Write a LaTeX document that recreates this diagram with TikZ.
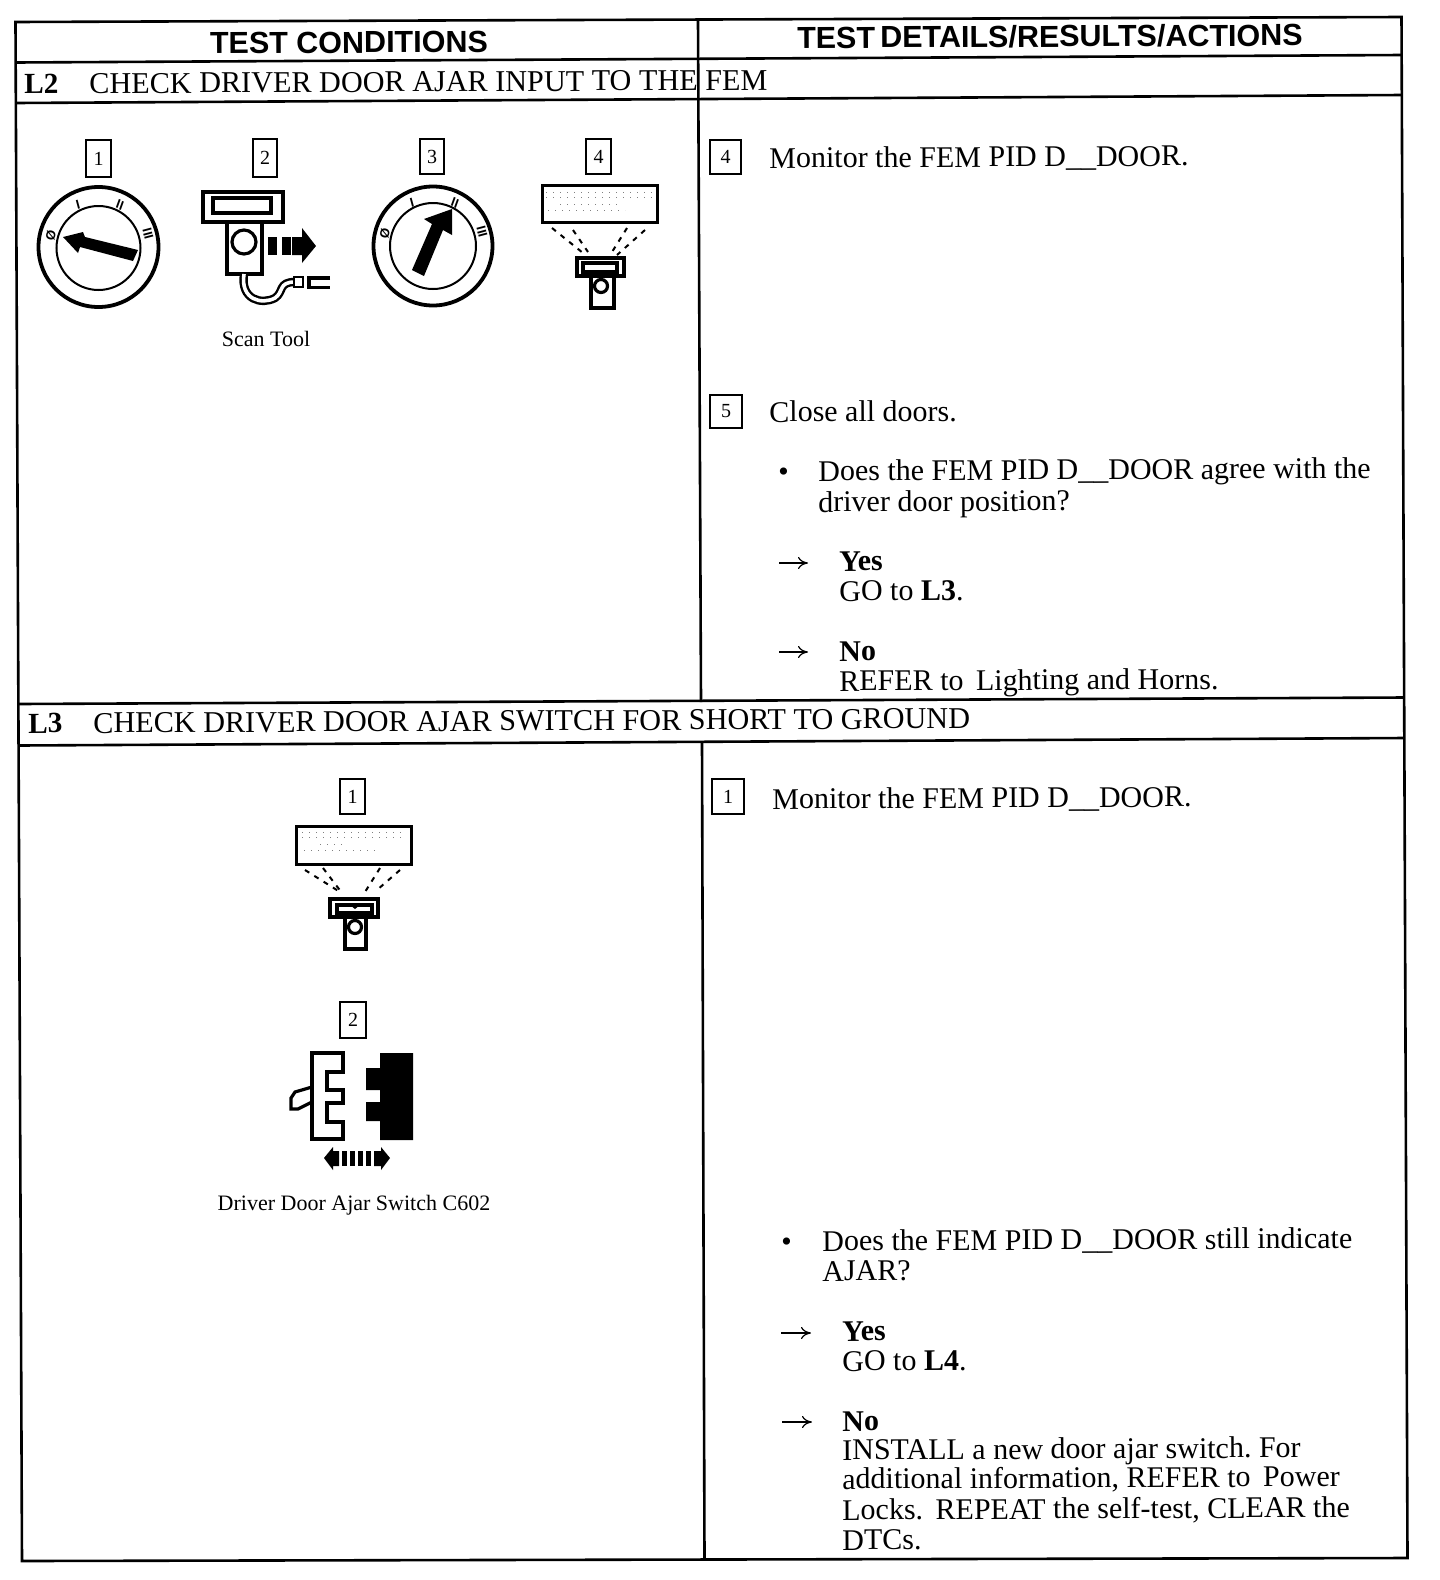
\documentclass[tikz,border=0pt]{standalone}
\usepackage{fontspec}
\setmainfont{Liberation Serif}
\newfontfamily\headfont{Liberation Sans}
\usetikzlibrary{arrows.meta}
\tikzset{
  frameline/.style={line width=1.3pt,black},
  body/.style={anchor=base west,inner sep=0pt,rotate=0.3,font=\fontsize{15}{15}\selectfont},
  rowtitle/.style={anchor=base west,inner sep=0pt,rotate=0.3,font=\fontsize{15.1}{15}\selectfont},
  rowlabel/.style={anchor=base west,inner sep=0pt,rotate=0.3,font=\bfseries\fontsize{14.6}{15}\selectfont},
  headtext/.style={anchor=base,inner sep=0pt,rotate=0.3,font=\headfont\bfseries\fontsize{15.25}{16}\selectfont},
  captext/.style={anchor=base,inner sep=0pt,font=\fontsize{11}{12}\selectfont},
  numframe/.style={draw,line width=0.8pt,fill=white},
  numtext/.style={inner sep=0pt,font=\fontsize{10}{12}\selectfont},
  dialmark/.style={inner sep=0pt,font=\headfont\bfseries\fontsize{6.5}{7}\selectfont},
  goarrow/.style={line width=0.6pt,-{To[length=5pt,width=6pt]}},
  thick1/.style={line width=1.6pt},
  thin1/.style={line width=1pt},
  specks/.style={line width=0.5pt,gray,dash pattern=on 0.7pt off 2.8pt},
  beam/.style={line width=1pt,dash pattern=on 2.5pt off 3pt},
}
\newcommand{\numbox}[6]{% name, x0, y0, x1, y1, text
  \draw[numframe] (#2,#3) rectangle (#4,#5);
  \node[numtext] (#1) at ({(#2+#4)/2},{(#3+#5)/2}) {#6};}
\begin{document}
\frenchspacing
\begin{tikzpicture}[x=0.5pt,y=-0.5pt]
\useasboundingbox (0,0) rectangle (1440,1580);
\fill[white] (0,0) rectangle (1440,1580);
% frame
\draw[frameline] (15.5,22) -- (1401.5,17) -- (1407.5,1558) -- (22,1561) -- cycle;
\draw[frameline] (15.7,62.5) -- (1401.7,55);
\draw[frameline] (15.9,103) -- (1401.9,95);
\draw[frameline] (18.5,704) -- (1404.5,697.5);
\draw[frameline] (18.7,745.5) -- (1404.7,738);
\draw[frameline] (698,20) -- (701,702);
\draw[frameline] (702,742) -- (704.5,1560);
% headers
\node[headtext] (h1) at (349,53) {TEST CONDITIONS};
\node[headtext] (h2) at (1050,47) {TEST\,DETAILS/RESULTS/ACTIONS};
\node[rowlabel] (l2) at (24,93.5) {L2};
\node[rowtitle] (l2t) at (89,93.5) {CHECK DRIVER DOOR AJAR INPUT TO THE FEM};
\node[rowlabel] (l3) at (28,733) {L3};
\node[rowtitle] (l3t) at (93,733) {CHECK DRIVER DOOR AJAR SWITCH FOR SHORT TO GROUND};
% L2 right column
\numbox{r4}{710}{140}{741}{174}{4}
\node[body] (t1) at (769,168) {Monitor the FEM PID D\_\_DOOR.};
\numbox{r5}{710}{395}{742}{428}{5}
\node[body] (t2) at (769,422) {Close all doors.};
\node[body] (b1) at (778,481) {•};
\node[body] (t3) at (818,481) {Does the FEM PID D\_\_DOOR agree with the};
\node[body] (t4) at (818,512) {driver door position?};
\coordinate (a1s) at (779,563); \coordinate (a1e) at (808,563);
\draw[goarrow] (a1s) -- (a1e);
\node[body] (t5) at (839,571) {\textbf{Yes}};
\node[body] (t6) at (839,601) {GO to \textbf{L3}.};
\coordinate (a2s) at (779,652); \coordinate (a2e) at (808,652);
\draw[goarrow] (a2s) -- (a2e);
\node[body] (t7) at (839,661) {\textbf{No}};
\node[body] (t8) at (839,691) {REFER to\, Lighting and Horns.};
% L3 right column
\numbox{r1}{712}{779}{744}{814}{1}
\node[body] (u1) at (772,809) {Monitor the FEM PID D\_\_DOOR.};
\node[body] (b2) at (781,1251) {•};
\node[body] (u2) at (822,1251) {Does the FEM PID D\_\_DOOR still indicate};
\node[body] (u3) at (822,1281) {AJAR?};
\coordinate (a3s) at (781,1333); \coordinate (a3e) at (811,1333);
\draw[goarrow] (a3s) -- (a3e);
\node[body] (u4) at (842,1341) {\textbf{Yes}};
\node[body] (u5) at (842,1371) {GO to \textbf{L4}.};
\coordinate (a4s) at (782,1422); \coordinate (a4e) at (812,1422);
\draw[goarrow] (a4s) -- (a4e);
\node[body] (u6) at (842,1431) {\textbf{No}};
\node[body] (u7) at (842,1460) {INSTALL a new door ajar switch. For};
\node[body] (u8) at (842,1489) {additional information, REFER to\, Power};
\node[body] (u9) at (842,1520) {Locks.\, REPEAT the self-test, CLEAR the};
\node[body] (u10) at (842,1550) {DTCs.};
% left column L2 number boxes
\numbox{l1}{86}{140}{111}{177}{1}
\numbox{l2n}{253}{139}{277}{177}{2}
\numbox{l3n}{420}{139}{444}{174}{3}
\numbox{l4n}{586}{139}{611}{174}{4}
% dial 1
\draw[line width=1.9pt] (98.5,247) circle (60);
\draw[line width=1pt] (98.5,248) circle (42);
\node[dialmark,rotate=75] (d1a) at (51,235) {Ø};
\node[dialmark,rotate=15] (d1b) at (78,205) {I};
\node[dialmark,rotate=-20] (d1c) at (120,205) {II};
\node[dialmark,rotate=-75] (d1d) at (148,234) {III};
\fill (138,250) -- (85,237) -- (83,232) -- (63,237) -- (78,253) -- (80,247) -- (133,261) -- cycle;
% scan tool
\draw[thick1] (203,192) rectangle (283,222);
\draw[thick1] (213,198) rectangle (271,213);
\draw[thick1] (227,222) rectangle (262,274);
\draw[thick1] (244,242) circle (12);
\fill (268,237) rectangle (277,255);
\fill (282,237) rectangle (291,255);
\fill (292,237) -- (302,237) -- (302,228) -- (316,246) -- (302,263) -- (302,255) -- (292,255) -- cycle;
\draw[line width=4.2pt] (244,274) .. controls (240,300) and (262,305) .. (275,298) .. controls (284,292) and (278,282) .. (295,282);
\draw[line width=1.8pt,white] (244,274) .. controls (240,300) and (262,305) .. (275,298) .. controls (284,292) and (278,282) .. (295,282);
\draw[thin1,fill=white] (294,277) rectangle (303,287);
\draw[thick1] (330,278) -- (309,278) -- (309,287.5) -- (330,287.5);
\node[captext] (c1) at (266,346) {Scan Tool};
% dial 2
\draw[line width=1.9pt] (433,246) circle (59.5);
\draw[line width=1pt] (433,246) circle (43);
\node[dialmark,rotate=75] (d2a) at (385,233) {Ø};
\node[dialmark,rotate=15] (d2b) at (412,203) {I};
\node[dialmark,rotate=-20] (d2c) at (455,203) {II};
\node[dialmark,rotate=-75] (d2d) at (482,232) {III};
\fill (452,209) -- (452,235) -- (443,230) -- (424,276) -- (412,270) -- (432,224) -- (424,219) -- cycle;
% display + tool (L2)
\draw[line width=1.5pt] (542,185) rectangle (657,222);
\draw[specks] (546,192) -- (653,192);
\draw[specks] (546,197) -- (653,197);
\draw[specks] (560,204) -- (620,204);
\draw[specks] (548,210) -- (625,210);
\draw[beam] (552,228) -- (583,253);
\draw[beam] (573,230) -- (588,252);
\draw[beam] (627,228) -- (612,252);
\draw[beam] (645,230) -- (617,255);
\draw[thick1,fill=white] (577,258) rectangle (624,276);
\draw[thick1] (583,263) rectangle (617,272);
\draw[thick1] (591,276) rectangle (614,308);
\draw[thick1] (601,286) circle (6.5);
% L3 left
\numbox{m1}{340}{779}{365}{814}{1}
\draw[line width=1.5pt] (296,826) rectangle (411,864);
\draw[specks] (302,832) -- (405,832);
\draw[specks] (302,837) -- (405,837);
\draw[specks] (320,844) -- (345,844);
\draw[specks] (304,850) -- (380,850);
\draw[beam] (305,870) -- (340,892);
\draw[beam] (323,868) -- (342,893);
\draw[beam] (380,868) -- (365,892);
\draw[beam] (400,870) -- (377,890);
\draw[thick1,fill=white] (330,899) rectangle (378,917);
\draw[thick1] (337,905) rectangle (372,913);
\fill (350,905) -- (360,905) -- (355,909) -- cycle;
\draw[thick1] (345,917) rectangle (366,949);
\draw[thick1] (355,927) circle (6.5);
\numbox{m2}{340}{1002}{366}{1038}{2}
% connector
\draw[thick1] (312,1053) -- (343,1053) -- (343,1072) -- (327,1072) -- (327,1090) -- (343,1090) -- (343,1103) -- (327,1103) -- (327,1122) -- (343,1122) -- (343,1139) -- (312,1139) -- cycle;
\draw[thick1] (312,1087) -- (295,1092) -- (291,1098) -- (291,1109) -- (298,1109) -- (312,1102);
\fill (380,1053) -- (413,1053) -- (413,1140) -- (380,1140) -- (380,1121) -- (366,1121) -- (366,1102) -- (380,1102) -- (380,1090) -- (366,1090) -- (366,1068) -- (380,1068) -- cycle;
% double arrow
\fill (324,1158) -- (333,1147) -- (333,1151) -- (339,1151) -- (339,1166) -- (333,1166) -- (333,1170) -- cycle;
\fill (342,1151) rectangle (347,1166);
\fill (350,1151) rectangle (355,1166);
\fill (358,1151) rectangle (363,1166);
\fill (366,1151) rectangle (371,1166);
\fill (390,1158) -- (381,1147) -- (381,1151) -- (374,1151) -- (374,1166) -- (381,1166) -- (381,1170) -- cycle;
\node[captext] (c2) at (354,1210) {Driver Door Ajar Switch C602};
\end{tikzpicture}
\end{document}
